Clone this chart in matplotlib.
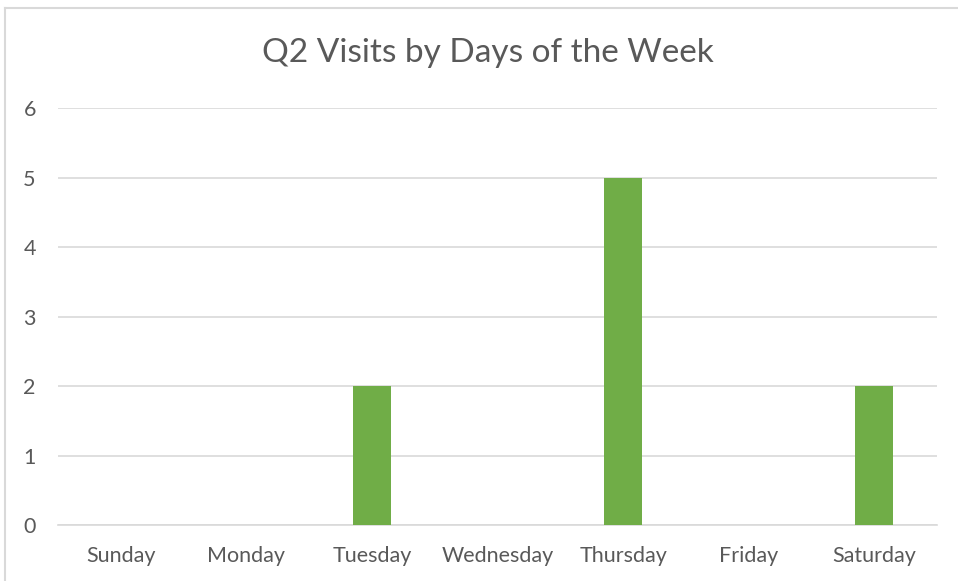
import matplotlib
matplotlib.use("Agg")
import matplotlib.pyplot as plt
from matplotlib.lines import Line2D

days = ["Sunday", "Monday", "Tuesday", "Wednesday", "Thursday", "Friday", "Saturday"]
visits = [0, 0, 2, 0, 5, 0, 2]
y_ticks = [0, 1, 2, 3, 4, 5, 6]

plt.rcParams['font.family'] = ['Lato', 'DejaVu Sans']
text_col = '#595959'

fig = plt.figure(figsize=(9.58, 5.81), dpi=100)
ax = fig.add_axes([58 / 958, 1 - 525 / 581, (937 - 58) / 958, (525 - 108) / 581])

x = range(len(days))
ax.bar(x, visits, width=0.3, color='#70AD47', zorder=3)

ax.set_xlim(-0.5, len(days) - 0.5)
ax.set_ylim(0, 6)
ax.set_yticks(y_ticks)
ax.set_xticks(list(x))
ax.set_xticklabels(days)
ax.grid(axis='y', color='#D9D9D9', linewidth=1.2, zorder=0)
for s in ['top', 'right', 'left']:
    ax.spines[s].set_visible(False)
ax.spines['bottom'].set_color('#D9D9D9')
ax.spines['bottom'].set_linewidth(1.2)
ax.tick_params(axis='both', length=0, labelsize=15.5, colors=text_col)
ax.tick_params(axis='y', pad=16)
ax.tick_params(axis='x', pad=15)

fig.text(488 / 958, 1 - 53 / 581, "Q2 Visits by Days of the Week", ha='center', va='center',
         fontsize=24, color=text_col)

# outer chart border (left and top visible)
fig.add_artist(Line2D([5 / 958, 5 / 958], [0, 1 - 8 / 581], transform=fig.transFigure,
                      color='#D9D9D9', linewidth=1.5))
fig.add_artist(Line2D([5 / 958, 1], [1 - 8 / 581, 1 - 8 / 581], transform=fig.transFigure,
                      color='#D9D9D9', linewidth=1.5))

fig.savefig("out.png", dpi=100)
